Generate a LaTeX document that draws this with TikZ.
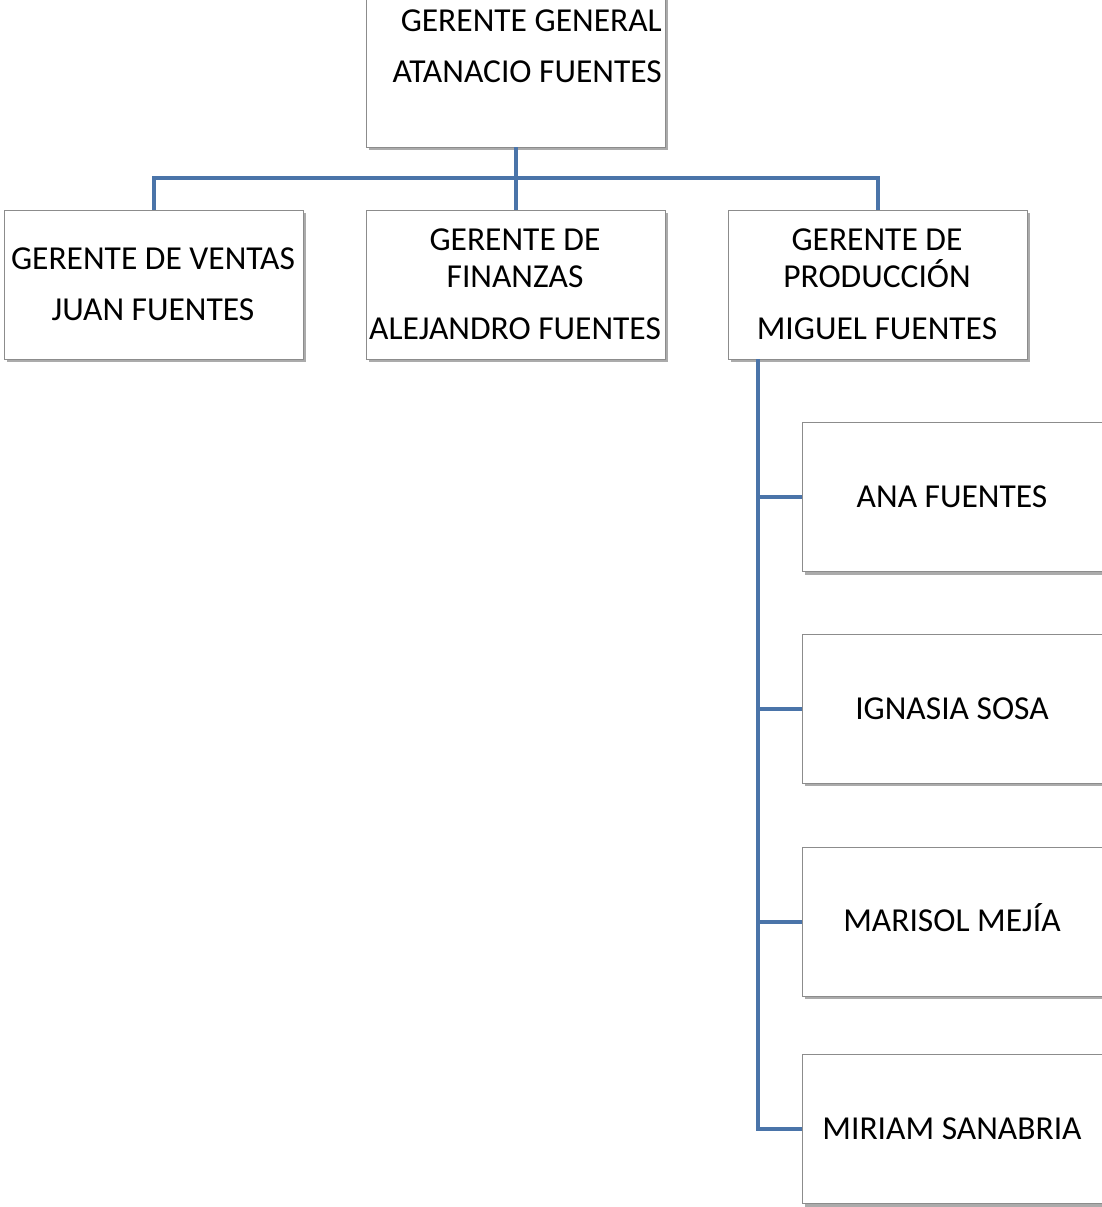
\documentclass[tikz,border=0pt]{standalone}
\usepackage{fontspec}
\setmainfont{Carlito}
\usetikzlibrary{shadows}
\definecolor{azulenlace}{HTML}{4A74A9}

\begin{document}
\begin{tikzpicture}[x=1pt,y=-1pt,
		caja/.style={draw=black!45,line width=0.9pt,fill=white,minimum width=299pt,minimum height=149pt,inner sep=0pt,
			drop shadow={shadow xshift=2.5pt,shadow yshift=-3pt,opacity=0.55,fill=black!60}},
		texto/.style={align=center,inner sep=0pt,anchor=base,font=\fontsize{33.5}{37}\selectfont},
		enlace/.style={draw=azulenlace,line width=4pt}]
	\useasboundingbox (0,0) rectangle (1101,1207);
	\node[caja,minimum height=167pt] (gg) at (515.5,63.5) {};
	\node[caja] (gv) at (153.5,284.5) {};
	\node[caja] (gf) at (515.5,284.5) {};
	\node[caja] (gp) at (877.5,284.5) {};
	\node[caja,minimum width=302pt] (ana) at (953,497) {};
	\node[caja,minimum width=302pt] (ign) at (953,708.5) {};
	\node[caja,minimum width=302pt] (mar) at (953,921.5) {};
	\node[caja,minimum width=302pt] (mir) at (953,1129) {};
	\node[texto,align=right,anchor=base east] (tgg) at (662,82) {GERENTE GENERAL\\[14pt]ATANACIO FUENTES};
	\node[texto] (tgv) at (153,320) {GERENTE DE VENTAS\\[14pt]JUAN FUENTES};
	\node[texto] (tgf) at (515,339) {GERENTE DE\\FINANZAS\\[15pt]ALEJANDRO FUENTES};
	\node[texto] (tgp) at (877,339) {GERENTE DE\\PRODUCCIÓN\\[15pt]MIGUEL FUENTES};
	\node[texto] (tana) at (952,507) {ANA FUENTES};
	\node[texto] (tign) at (952,719) {IGNASIA SOSA};
	\node[texto] (tmar) at (952,931) {MARISOL MEJÍA};
	\node[texto] (tmir) at (952,1139) {MIRIAM SANABRIA};
	\coordinate (bus) at (0,178);
	\coordinate (tronco) at ([xshift=30pt]gp.south west);
	\draw[enlace] (gg.south) -- (gf.north);
	\draw[enlace] (gv.north) -- (gv.north |- bus) -- (gp.north |- bus) -- (gp.north);
	\draw[enlace] (tronco) |- (mir.west);
	\draw[enlace] (tronco |- ana.west) -- (ana.west);
	\draw[enlace] (tronco |- ign.west) -- (ign.west);
	\draw[enlace] (tronco |- mar.west) -- (mar.west);
\end{tikzpicture}
\end{document}
